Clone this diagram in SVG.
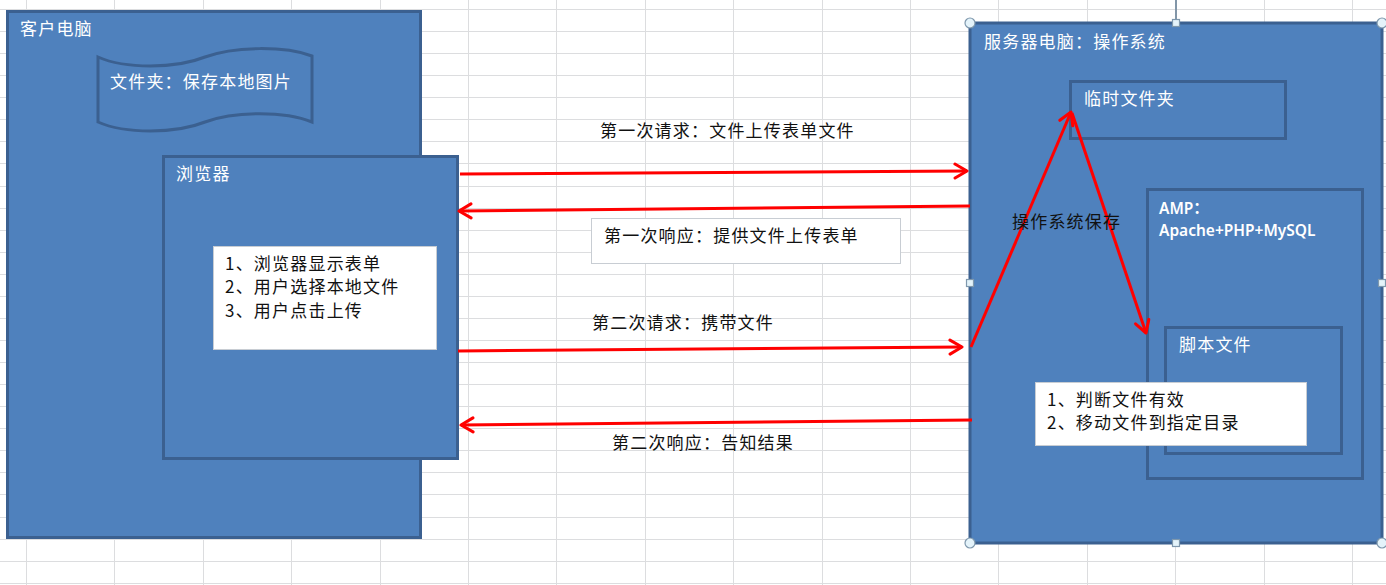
<svg xmlns="http://www.w3.org/2000/svg" width="1386" height="585" viewBox="0 0 1386 585">
<style>
.grid{stroke:#dcdddf;stroke-width:1;fill:none}
.box{fill:#4f81bd;stroke:#3b6090;stroke-width:3}
.inner{fill:#4f81bd;stroke:#3b6090;stroke-width:3}
.note{fill:#fff;stroke:#c8cdd3;stroke-width:1}
.wt{fill:#fff;font-family:"Noto Sans CJK SC","Noto Sans",sans-serif;font-size:17px;letter-spacing:1.2px}
.bt{fill:#111;font-family:"Noto Sans CJK SC","Noto Sans",sans-serif;font-size:17px;letter-spacing:1.2px}
.amp{fill:#fff;font-family:"Noto Sans","Noto Sans CJK SC",sans-serif;font-size:15.5px;font-weight:600}
.arr{stroke:#f00;stroke-width:3;fill:none;marker-end:url(#ah)}
.hc{fill:#e4f3fa;stroke:#7f98ad;stroke-width:1.2}
</style>
<defs>
<marker id="ah" viewBox="-2 -9 16 18" refX="12" refY="0" markerWidth="16" markerHeight="18" markerUnits="userSpaceOnUse" orient="auto">
<path d="M0,-7 L12,0 L0,7" fill="none" stroke="#f00" stroke-width="3" stroke-linecap="round" stroke-linejoin="round"/>
</marker>
</defs>
<rect width="1386" height="585" fill="#fff"/>
<path class="grid" d="M26.5,0V585M114.5,0V585M203.5,0V585M291.5,0V585M380.5,0V585M468.5,0V585M556.5,0V585M645.5,0V585M733.5,0V585M822.5,0V585M910.5,0V585M998.5,0V585M1087.5,0V585M1175.5,0V585M1264.5,0V585M1352.5,0V585
M0,9.5H1386M0,31.5H1386M0,53.5H1386M0,75.5H1386M0,97.5H1386M0,119.5H1386M0,141.5H1386M0,163.5H1386M0,186.5H1386M0,208.5H1386M0,230.5H1386M0,252.5H1386M0,274.5H1386M0,296.5H1386M0,318.5H1386M0,340.5H1386M0,362.5H1386M0,384.5H1386M0,406.5H1386M0,428.5H1386M0,450.5H1386M0,472.5H1386M0,494.5H1386M0,517.5H1386M0,539.5H1386M0,561.5H1386M0,583.5H1386"/>

<g id="client">
<rect class="box" x="7.5" y="11.5" width="413" height="526"/>
<text class="wt" x="20" y="35">客户电脑</text>
</g>
<g id="folder">
<path class="inner" d="M98,57 C125,69 175,69 205,57 C235,46 285,46 312,56 L312,122 C285,111 235,111 205,122 C175,134 125,134 98,122 Z"/>
<text class="wt" x="110" y="88">文件夹：保存本地图片</text>
</g>
<g id="browser">
<rect class="box" x="163.5" y="156.5" width="294" height="302"/>
<text class="wt" x="176" y="180">浏览器</text>
</g>
<g id="browser-steps">
<rect class="note" x="213.5" y="246.5" width="223" height="103"/>
<text class="bt" x="225" y="270">1、浏览器显示表单</text>
<text class="bt" x="225" y="293">2、用户选择本地文件</text>
<text class="bt" x="225" y="317">3、用户点击上传</text>
</g>

<g id="server">
<rect class="box" x="970" y="23" width="412" height="520"/>
<text class="wt" x="984" y="48">服务器电脑：操作系统</text>
</g>
<g id="temp-folder">
<rect class="inner" x="1070.5" y="81.5" width="215" height="57"/>
<text class="wt" x="1084" y="105">临时文件夹</text>
</g>
<g id="amp">
<rect class="inner" x="1147.5" y="189.5" width="215" height="289"/>
<text class="amp" x="1159" y="214">AMP：</text>
<text class="amp" x="1159" y="236">Apache+PHP+MySQL</text>
</g>
<g id="script-file">
<rect class="inner" x="1165.5" y="327.5" width="176" height="126"/>
<text class="wt" x="1179" y="351">脚本文件</text>
</g>
<g id="script-steps">
<rect class="note" x="1035.5" y="382.5" width="271" height="63"/>
<text class="bt" x="1047" y="406">1、判断文件有效</text>
<text class="bt" x="1047" y="429">2、移动文件到指定目录</text>
</g>

<g id="selection-handles">
<line x1="1176" y1="0" x2="1176" y2="23" stroke="#8296a8" stroke-width="2"/>
<circle class="hc" cx="970" cy="23" r="5"/>
<circle class="hc" cx="1382" cy="23" r="5"/>
<circle class="hc" cx="970" cy="543" r="5"/>
<circle class="hc" cx="1382" cy="543" r="5"/>
<rect class="hc" x="1172.5" y="19.5" width="7" height="7"/>
<rect class="hc" x="1172.5" y="539.5" width="7" height="7"/>
<rect class="hc" x="966.5" y="279.5" width="7" height="7"/>
<rect class="hc" x="1378.5" y="279.5" width="7" height="7"/>
</g>

<g id="connectors">
<path class="arr" d="M460,174 L967,171"/>
<path class="arr" d="M970,206 L459,211"/>
<path class="arr" d="M458,351 L962,347"/>
<path class="arr" d="M972,420 L461,425"/>
<path class="arr" d="M971,347 L1071,112"/>
<path class="arr" d="M1072,113 L1146,333"/>
</g>
<g id="labels">
<text class="bt" x="600" y="137">第一次请求：文件上传表单文件</text>
<rect class="note" x="591.5" y="218.5" width="309" height="45"/>
<text class="bt" x="604" y="242">第一次响应：提供文件上传表单</text>
<text class="bt" x="592" y="329">第二次请求：携带文件</text>
<text class="bt" x="612" y="449">第二次响应：告知结果</text>
<text class="bt" x="1012" y="228">操作系统保存</text>
</g>
</svg>
